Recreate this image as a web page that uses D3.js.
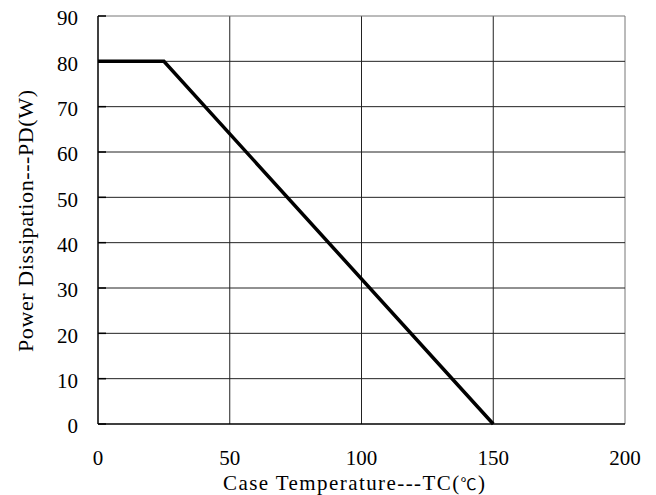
<!DOCTYPE html>
<html>
<head>
<meta charset="utf-8">
<script src="https://cdn.jsdelivr.net/npm/d3@7"></script>
<style>
  body { margin: 0; background: #fff; }
  text { font-family: "Liberation Serif", "DejaVu Serif", serif; fill: #000; }
</style>
</head>
<body>
<svg id="chart" width="656" height="495"></svg>
<script>
// Derating curve data
const tempC = [0, 25, 150];
const powerW = [80, 80, 0];
const xTicks = [0, 50, 100, 150, 200];
const yTicks = [0, 10, 20, 30, 40, 50, 60, 70, 80, 90];

const svg = d3.select("#chart");
const margin = { left: 98, right: 31, top: 16, bottom: 71 };
const width = +svg.attr("width");
const height = +svg.attr("height");

const x = d3.scaleLinear().domain([0, 200]).range([margin.left, width - margin.right]);
const y = d3.scaleLinear().domain([0, 90]).range([height - margin.bottom, margin.top]);

// grid
svg.append("g").selectAll("line").data(xTicks.slice(1)).join("line")
  .attr("x1", d => x(d)).attr("x2", d => x(d))
  .attr("y1", y(0)).attr("y2", y(90))
  .attr("stroke", d => d === 200 ? "#777" : "#222").attr("stroke-width", 1);
svg.append("g").selectAll("line").data(yTicks.slice(1)).join("line")
  .attr("x1", x(0)).attr("x2", x(200))
  .attr("y1", d => y(d)).attr("y2", d => y(d))
  .attr("stroke", d => d === 90 ? "#777" : "#222").attr("stroke-width", 1);

// axes frame + small inward ticks
svg.append("line").attr("x1", x(0)).attr("x2", x(0)).attr("y1", y(0)).attr("y2", y(90))
  .attr("stroke", "#000").attr("stroke-width", 1.5);
svg.append("line").attr("x1", x(0)).attr("x2", x(200)).attr("y1", y(0)).attr("y2", y(0))
  .attr("stroke", "#000").attr("stroke-width", 1.5);
svg.append("g").selectAll("line").data(yTicks).join("line")
  .attr("x1", x(0)).attr("x2", x(0) + 8)
  .attr("y1", d => y(d)).attr("y2", d => y(d))
  .attr("stroke", "#000").attr("stroke-width", 1.5);

// tick labels
svg.append("g").selectAll("text").data(yTicks).join("text")
  .attr("x", x(0) - 20).attr("y", d => y(d) + 2)
  .attr("dy", "0.35em").attr("text-anchor", "end")
  .style("font-size", "21px").text(d => d);
svg.append("g").selectAll("text").data(xTicks).join("text")
  .attr("x", d => x(d)).attr("y", y(0) + 41)
  .attr("text-anchor", "middle")
  .style("font-size", "21px").text(d => d);

// curve
const line = d3.line().x((d, i) => x(tempC[i])).y(d => y(d));
svg.append("path").datum(powerW)
  .attr("d", line).attr("fill", "none")
  .attr("stroke", "#000").attr("stroke-width", 3.5)
  .attr("stroke-linejoin", "miter");

// axis titles
const xt = svg.append("text").attr("x", 354).attr("y", 490)
  .attr("text-anchor", "middle").style("font-size", "21px")
  .attr("textLength", 262).attr("lengthAdjust", "spacing");
xt.append("tspan").text("Case Temperature---TC(");
xt.append("tspan").style("font-family", "'Noto Sans CJK TC'").style("font-size", "16px").text("℃");
xt.append("tspan").text(")");
svg.append("text")
  .attr("transform", "translate(33,221) rotate(-90)")
  .attr("text-anchor", "middle").style("font-size", "22px")
  .attr("textLength", 262).attr("lengthAdjust", "spacing")
  .text("Power Dissipation---PD(W)");
</script>
</body>
</html>
